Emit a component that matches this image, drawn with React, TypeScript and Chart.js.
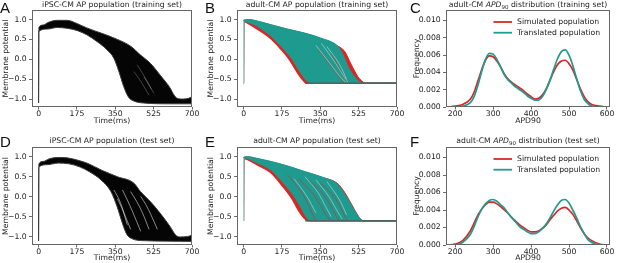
import React, { useEffect, useRef } from 'react';
import { Chart, registerables } from 'chart.js';

Chart.register(...registerables);

type Pt = [number, number];

// ---------------- tick labels ----------------
const timeTicks = [0, 175, 350, 525, 700];
const potentialTicks = [-1.0, -0.5, 0.0, 0.5, 1.0];
const apdTicks = [200, 300, 400, 500, 600];
const freqTicks = [0, 0.002, 0.004, 0.006, 0.008, 0.01];

// ---------------- A: iPSC-CM training population (envelopes + gaps) ----------------
const ipscTrainSlow: Pt[] = [[0, -1.1], [1.5, 0.8], [20, 0.86], [45, 0.93], [85, 0.98], [130, 0.98], [175, 0.9], [220, 0.79], [285, 0.66], [360, 0.5], [420, 0.33], [465, 0.11], [510, -0.1], [555, -0.4], [600, -0.72], [618, -0.9], [632, -0.98], [660, -1.0], [685, -0.98], [700, -0.94]];
const ipscTrainFast: Pt[] = [[0, -1.1], [1, 0.7], [40, 0.76], [85, 0.8], [130, 0.78], [178, 0.72], [222, 0.61], [268, 0.44], [312, 0.24], [343, 0.03], [366, -0.3], [388, -0.68], [410, -0.95], [435, -1.05], [480, -1.1], [600, -1.12], [700, -1.12]];
const ipscTrainGaps: Pt[][] = [
  [[435, -0.31], [460, -0.5], [481, -0.69], [504, -0.9]],
  [[450, -0.14], [475, -0.36], [496, -0.56], [515, -0.75]],
  [[481, -0.44], [505, -0.66], [527, -0.86]],
];

// ---------------- D: iPSC-CM test population ----------------
const ipscTestSlow: Pt[] = [[0, -1.1], [1.5, 0.82], [20, 0.88], [50, 0.95], [90, 0.98], [130, 0.97], [180, 0.91], [225, 0.83], [285, 0.67], [360, 0.5], [435, 0.34], [465, 0.13], [510, -0.12], [555, -0.41], [600, -0.74], [625, -0.95], [645, -1.0], [680, -0.99], [700, -0.95]];
const ipscTestFast: Pt[] = [[0, -1.1], [1, 0.74], [40, 0.8], [90, 0.84], [140, 0.82], [190, 0.74], [230, 0.63], [285, 0.42], [330, 0.13], [358, -0.24], [382, -0.65], [402, -0.93], [425, -1.04], [470, -1.09], [700, -1.11]];
const ipscTestGaps: Pt[][] = [
  [[344, 0.17], [370, -0.1], [390, -0.4], [420, -0.81]],
  [[383, 0.17], [405, -0.08], [428, -0.36], [466, -0.86]],
  [[420, 0.13], [448, -0.12], [474, -0.4], [504, -0.81]],
  [[466, 0.01], [490, -0.2], [512, -0.44], [542, -0.81]],
  [[360, -0.05], [385, -0.35], [405, -0.7]],
];

// ---------------- B: adult-CM training population ----------------
const adultTrainRedSlow: Pt[] = [[0, -0.6], [1, 0.98], [30, 0.99], [50, 0.97], [126, 0.86], [202, 0.75], [279, 0.65], [354, 0.52], [420, 0.36], [461, 0.2], [492, -0.14], [522, -0.44], [545, -0.57], [555, -0.6], [700, -0.6]];
const adultTrainRedFast: Pt[] = [[0, -0.6], [1, 0.95], [20, 0.9], [50, 0.8], [90, 0.66], [126, 0.51], [172, 0.24], [210, -0.02], [248, -0.36], [271, -0.53], [285, -0.6], [700, -0.6]];
const adultTrainTealSlow: Pt[] = [[0, -0.6], [1, 0.99], [30, 1.0], [50, 0.98], [126, 0.87], [202, 0.76], [279, 0.66], [354, 0.53], [431, 0.32], [454, 0.11], [477, -0.19], [507, -0.44], [530, -0.57], [545, -0.6], [700, -0.6]];
const adultTrainTealFast: Pt[] = [[0, -0.6], [1, 0.96], [20, 0.93], [50, 0.87], [90, 0.73], [126, 0.58], [172, 0.32], [218, 0.03], [256, -0.31], [286, -0.53], [306, -0.6], [700, -0.6]];
const adultTrainRedInner: Pt[][] = [
  [[340, 0.25], [410, -0.25], [450, -0.55], [460, -0.6]],
  [[400, 0.15], [440, -0.25], [470, -0.55]],
];
const adultTrainGaps: Pt[][] = [
  [[355, 0.4], [420, -0.1], [460, -0.45], [476, -0.57]],
  [[380, 0.32], [440, -0.15], [470, -0.5]],
  [[330, 0.35], [400, -0.15], [450, -0.5], [468, -0.58]],
];

// ---------------- E: adult-CM test population ----------------
const adultTestRedSlow: Pt[] = [[0, -0.6], [1, 0.98], [20, 0.99], [60, 0.95], [126, 0.87], [200, 0.76], [279, 0.62], [354, 0.49], [431, 0.32], [460, 0.12], [492, -0.18], [520, -0.45], [537, -0.57], [550, -0.6], [700, -0.6]];
const adultTestRedFast: Pt[] = [[0, -0.6], [1, 0.95], [20, 0.92], [60, 0.8], [126, 0.59], [172, 0.3], [218, -0.03], [248, -0.32], [271, -0.5], [286, -0.58], [295, -0.6], [700, -0.6]];
const adultTestTealSlow: Pt[] = [[0, -0.6], [1, 0.99], [20, 1.0], [60, 0.96], [126, 0.88], [200, 0.77], [279, 0.63], [354, 0.5], [431, 0.3], [477, -0.07], [510, -0.38], [530, -0.53], [545, -0.6], [700, -0.6]];
const adultTestTealFast: Pt[] = [[0, -0.6], [1, 0.97], [20, 0.95], [60, 0.85], [126, 0.66], [172, 0.4], [218, 0.1], [260, -0.25], [279, -0.45], [295, -0.56], [309, -0.6], [700, -0.6]];
const adultTestRedInner: Pt[][] = [
  [[250, 0.45], [320, 0.05], [360, -0.3], [385, -0.52], [400, -0.6]],
  [[300, 0.4], [370, 0.02], [410, -0.35], [430, -0.55], [440, -0.6]],
  [[350, 0.35], [420, -0.05], [455, -0.4], [470, -0.56], [478, -0.6]],
  [[200, 0.55], [260, 0.15], [300, -0.25], [320, -0.5], [330, -0.6]],
];
const adultTestGaps: Pt[][] = [
  [[280, 0.5], [340, 0.1], [380, -0.3], [400, -0.5]],
  [[330, 0.42], [390, 0.0], [430, -0.38], [450, -0.55]],
  [[380, 0.38], [440, -0.1], [470, -0.45]],
  [[230, 0.45], [290, 0.0], [330, -0.4]],
];
const restingLevel: Pt[] = [[280, -0.6], [700, -0.6]];
const adultUpstroke: Pt[] = [[0, -0.6], [0, 0.97]];

// ---------------- C / F: APD90 densities ----------------
const apdGrid = [180, 200, 220, 240, 250, 260, 270, 280, 290, 300, 310, 320, 330, 340, 350, 360, 370, 380, 390, 400, 410, 420, 430, 440, 450, 460, 470, 480, 490, 500, 510, 520, 530, 540, 550, 560, 580, 600];
const trainSimulated = [0, 0.0001, 0.0003, 0.0009, 0.0017, 0.003, 0.0043, 0.0054, 0.0059, 0.0058, 0.0053, 0.0046, 0.0038, 0.0032, 0.0028, 0.0025, 0.0022, 0.0019, 0.0015, 0.0012, 0.0009, 0.001, 0.0014, 0.0021, 0.0031, 0.0041, 0.0049, 0.0053, 0.0054, 0.005, 0.0043, 0.0032, 0.0021, 0.0012, 0.0006, 0.0003, 0.0001, 0];
const trainTranslated = [0, 0, 0.0001, 0.0005, 0.0012, 0.0025, 0.0041, 0.0055, 0.0062, 0.0061, 0.0055, 0.0046, 0.0037, 0.0031, 0.0027, 0.0023, 0.002, 0.0017, 0.0013, 0.001, 0.0008, 0.0008, 0.0012, 0.002, 0.0031, 0.0044, 0.0056, 0.0064, 0.0066, 0.006, 0.0048, 0.0033, 0.0019, 0.0009, 0.0004, 0.0001, 0, 0];
const testSimulated = [0, 0.0001, 0.0005, 0.0016, 0.0025, 0.0034, 0.0041, 0.0046, 0.0049, 0.0049, 0.0047, 0.0044, 0.004, 0.0036, 0.0031, 0.0027, 0.0023, 0.002, 0.0017, 0.0015, 0.0015, 0.0016, 0.0019, 0.0023, 0.0029, 0.0034, 0.0039, 0.0042, 0.0043, 0.004, 0.0035, 0.0028, 0.002, 0.0013, 0.0008, 0.0005, 0.0001, 0];
const testTranslated = [0, 0, 0.0003, 0.0012, 0.0021, 0.0032, 0.0041, 0.0047, 0.0051, 0.0052, 0.005, 0.0046, 0.0042, 0.0036, 0.0031, 0.0026, 0.0021, 0.0018, 0.0015, 0.0013, 0.0013, 0.0015, 0.0019, 0.0024, 0.0031, 0.0039, 0.0046, 0.0051, 0.0052, 0.0048, 0.004, 0.0031, 0.0021, 0.0013, 0.0006, 0.0003, 0, 0];
const seriesNames = ['Simulated population', 'Translated population'];

// ---------------- styling ----------------
const FONT = 'DejaVu Sans';
const FS = 7.7;
const RED = '#d92624';
const TEAL = '#1f9a8e';
const INK = '#222';

function line(points: Pt[], color: string, width: number, extra: any = {}) {
  return {
    data: points.map(([x, y]) => ({ x, y })),
    borderColor: color,
    backgroundColor: color,
    borderWidth: width,
    pointRadius: 0,
    fill: false,
    cubicInterpolationMode: 'monotone',
    ...extra,
  };
}
function straight(points: Pt[], color: string, width: number, order: number) {
  return line(points, color, width, { cubicInterpolationMode: 'default', tension: 0, order });
}

const framePlugin = {
  id: 'frame',
  afterDraw(chart: any) {
    const { ctx, chartArea: a } = chart;
    ctx.save();
    ctx.strokeStyle = '#666';
    ctx.lineWidth = 1;
    ctx.strokeRect(a.left + 0.5, a.top + 0.5, a.right - a.left - 1, a.bottom - a.top - 1);
    ctx.restore();
  },
};

const legendPlugin = {
  id: 'kdeLegend',
  afterDatasetsDraw(chart: any) {
    const { ctx, chartArea: a } = chart;
    ctx.save();
    chart.data.datasets.forEach((d: any, i: number) => {
      const y = a.top + 12 + i * 10.7;
      ctx.strokeStyle = d.borderColor;
      ctx.lineWidth = 1.8;
      ctx.beginPath();
      ctx.moveTo(a.left + 47.5, y);
      ctx.lineTo(a.left + 66, y);
      ctx.stroke();
      ctx.fillStyle = INK;
      ctx.font = `${FS}px "${FONT}"`;
      ctx.textBaseline = 'middle';
      ctx.textAlign = 'left';
      ctx.fillText(d.label, a.left + 71, y);
    });
    ctx.restore();
  },
};

type Geo = { w: number; h: number; yW: number; padTop: number; padRight: number; xH: number; xTitlePad: number; yTitlePad: number };

const fmtMinus = (s: string) => s.replace('-', '\u2212');

function makeConfig(datasets: any[], geo: Geo, ax: any, extraPlugins: any[] = []) {
  const tickFont = { family: FONT, size: FS };
  return {
    type: 'line',
    data: { datasets },
    plugins: [framePlugin, ...extraPlugins],
    options: {
      responsive: false,
      animation: false,
      devicePixelRatio: 1,
      events: [],
      layout: { padding: { left: 0, top: geo.padTop, right: geo.padRight, bottom: 0 } },
      plugins: { legend: { display: false }, tooltip: { enabled: false }, title: { display: false } },
      scales: {
        x: {
          type: 'linear',
          min: ax.xMin,
          max: ax.xMax,
          afterBuildTicks: (s: any) => { s.ticks = ax.xTicks.map((v: number) => ({ value: v })); },
          afterFit: (s: any) => { s.height = geo.xH; },
          ticks: { autoSkip: false, maxRotation: 0, minRotation: 0, padding: 0, color: INK, font: tickFont, callback: (v: any) => ax.xFmt(Number(v)) },
          grid: { display: true, drawOnChartArea: false, drawTicks: true, tickLength: 2.5, color: '#444', lineWidth: 0.8 },
          border: { display: false },
          title: { display: true, text: ax.xTitle, color: INK, font: tickFont, padding: { top: 0, bottom: geo.xTitlePad } },
        },
        y: {
          type: 'linear',
          min: ax.yMin,
          max: ax.yMax,
          afterBuildTicks: (s: any) => { s.ticks = ax.yTicks.map((v: number) => ({ value: v })); },
          afterFit: (s: any) => { s.width = geo.yW; },
          ticks: { autoSkip: false, padding: 2.3, color: INK, font: tickFont, callback: (v: any) => ax.yFmt(Number(v)) },
          grid: { display: true, drawOnChartArea: false, drawTicks: true, tickLength: 3, color: '#444', lineWidth: 0.8 },
          border: { display: false },
          title: { display: true, text: ax.yTitle, color: INK, font: tickFont, padding: { top: geo.yTitlePad, bottom: 0 } },
        },
      },
    },
  };
}

const apAxes = {
  xMin: -30, xMax: 700, xTicks: timeTicks, xFmt: (v: number) => String(v), xTitle: 'Time(ms)',
  yMin: -1.2, yMax: 1.24, yTicks: potentialTicks, yFmt: (v: number) => fmtMinus(v.toFixed(1)), yTitle: 'Membrane potential',
};
const kdeAxes = {
  xMin: 176, xMax: 608, xTicks: apdTicks, xFmt: (v: number) => String(v), xTitle: 'APD90',
  yMin: 0, yMax: 0.0112, yTicks: freqTicks, yFmt: (v: number) => v.toFixed(3), yTitle: 'Frequency',
};

const topGeo = { h: 130, padTop: 10, xH: 23, xTitlePad: 4.8 };
const botGeo = { h: 133, padTop: 17, xH: 18, xTitlePad: 0.8 };
const apGeo = { w: 205, yW: 32, padRight: 13, yTitlePad: 0.9 };
const kdeGeo = { w: 207, yW: 36, padRight: 7, yTitlePad: 2.1 };

function ipscDatasets(slow: Pt[], fast: Pt[], gaps: Pt[][], gapAlpha: number) {
  return [
    line(slow, '#3a3a3a', 1, { fill: '+1', backgroundColor: '#050505', order: 10 }),
    line(fast, '#3a3a3a', 1, { order: 9 }),
    ...gaps.map((g) => line(g, `rgba(255,255,255,${gapAlpha})`, 0.7, { order: 2 })),
  ];
}

function adultDatasets(redSlow: Pt[], redFast: Pt[], tealSlow: Pt[], tealFast: Pt[], reds: Pt[][], gaps: Pt[][]) {
  return [
    line(redSlow, RED, 1, { fill: '+1', backgroundColor: RED, order: 20 }),
    line(redFast, RED, 1.2, { order: 19 }),
    line(tealSlow, TEAL, 1, { fill: '+1', backgroundColor: TEAL, order: 18 }),
    line(tealFast, TEAL, 1, { order: 17 }),
    ...reds.map((r) => line(r, 'rgba(200,50,45,0.8)', 0.8, { order: 6 })),
    ...gaps.map((g) => line(g, 'rgba(255,255,255,0.6)', 0.7, { order: 5 })),
    straight(restingLevel, '#555a55', 1.2, 2),
    straight(adultUpstroke, '#9fcfca', 1.2, 1),
  ];
}

function kdeDatasets(sim: number[], trans: number[]) {
  const pts = (vals: number[]): Pt[] => apdGrid.map((x, i) => [x, vals[i]]);
  return [
    line(pts(sim), RED, 1.7, { label: seriesNames[0], order: 2 }),
    line(pts(trans), TEAL, 1.7, { label: seriesNames[1], order: 1 }),
  ];
}

function ChartCanvas({ left, top, geo, build }: { left: number; top: number; geo: Geo; build: () => any }) {
  const ref = useRef<HTMLCanvasElement>(null);
  useEffect(() => {
    const chart = new Chart(ref.current as HTMLCanvasElement, build());
    return () => chart.destroy();
  }, []);
  return (
    <canvas
      ref={ref}
      width={geo.w}
      height={geo.h}
      style={{ position: 'absolute', left, top, width: geo.w, height: geo.h }}
    />
  );
}

const titleStyle: React.CSSProperties = {
  position: 'absolute',
  fontFamily: FONT,
  fontSize: FS,
  lineHeight: '9px',
  color: INK,
  textAlign: 'center',
  whiteSpace: 'nowrap',
};
const letterStyle: React.CSSProperties = {
  position: 'absolute',
  fontFamily: '"Liberation Sans", Arial, sans-serif',
  fontSize: 15,
  lineHeight: '15px',
  color: '#111',
};
const subStyle: React.CSSProperties = { fontSize: 5.5, verticalAlign: '-1.5px' };

export default function App() {
  const A: Geo = { ...apGeo, ...topGeo };
  const D: Geo = { ...apGeo, ...botGeo };
  const C: Geo = { ...kdeGeo, ...topGeo };
  const F: Geo = { ...kdeGeo, ...botGeo };
  return (
    <div style={{ position: 'absolute', left: 0, top: 0, width: 617, height: 263, background: '#fff', overflow: 'hidden' }}>
      <ChartCanvas left={0} top={0} geo={A} build={() => makeConfig(ipscDatasets(ipscTrainSlow, ipscTrainFast, ipscTrainGaps, 0.35), A, apAxes)} />
      <ChartCanvas left={205} top={0} geo={A} build={() => makeConfig(adultDatasets(adultTrainRedSlow, adultTrainRedFast, adultTrainTealSlow, adultTrainTealFast, adultTrainRedInner, adultTrainGaps), A, apAxes)} />
      <ChartCanvas left={410} top={0} geo={C} build={() => makeConfig(kdeDatasets(trainSimulated, trainTranslated), C, kdeAxes, [legendPlugin])} />
      <ChartCanvas left={0} top={130} geo={D} build={() => makeConfig(ipscDatasets(ipscTestSlow, ipscTestFast, ipscTestGaps, 0.75), D, apAxes)} />
      <ChartCanvas left={205} top={130} geo={D} build={() => makeConfig(adultDatasets(adultTestRedSlow, adultTestRedFast, adultTestTealSlow, adultTestTealFast, adultTestRedInner, adultTestGaps), D, apAxes)} />
      <ChartCanvas left={410} top={130} geo={F} build={() => makeConfig(kdeDatasets(testSimulated, testTranslated), F, kdeAxes, [legendPlugin])} />

      <div style={{ ...titleStyle, left: 32, width: 160, top: 0 }}>iPSC-CM AP population (training set)</div>
      <div style={{ ...titleStyle, left: 237, width: 160, top: 0 }}>adult-CM AP population (training set)</div>
      <div style={{ ...titleStyle, left: 446, width: 164, top: 0 }}>adult-CM <i>APD</i><sub style={subStyle}>90</sub> distribution (training set)</div>
      <div style={{ ...titleStyle, left: 32, width: 160, top: 136 }}>iPSC-CM AP population (test set)</div>
      <div style={{ ...titleStyle, left: 237, width: 160, top: 136 }}>adult-CM AP population (test set)</div>
      <div style={{ ...titleStyle, left: 446, width: 164, top: 136 }}>adult-CM <i>APD</i><sub style={subStyle}>90</sub> distribution (test set)</div>

      <div style={{ ...letterStyle, left: 0, top: 0 }}>A</div>
      <div style={{ ...letterStyle, left: 205, top: 0 }}>B</div>
      <div style={{ ...letterStyle, left: 410, top: 0 }}>C</div>
      <div style={{ ...letterStyle, left: 0, top: 134 }}>D</div>
      <div style={{ ...letterStyle, left: 205, top: 134 }}>E</div>
      <div style={{ ...letterStyle, left: 410, top: 134 }}>F</div>
    </div>
  );
}
